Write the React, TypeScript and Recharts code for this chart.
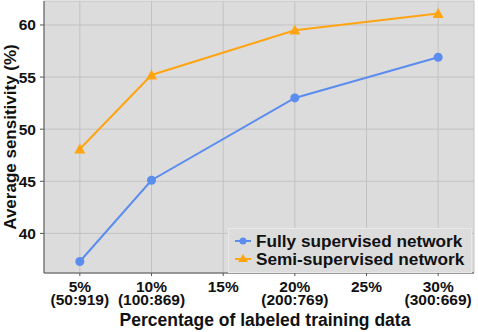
import {
  CartesianGrid,
  Legend,
  Line,
  LineChart,
  XAxis,
  YAxis,
} from "recharts";

const pct = [5, 10, 20, 30];
const fully = [37.3, 45.1, 53.0, 56.9];
const semi = [48.1, 55.2, 59.5, 61.1];

const xTicks = [5, 10, 15, 20, 25, 30];
const xTickTop = ["5%", "10%", "15%", "20%", "25%", "30%"];
const xTickBottom = ["(50:919)", "(100:869)", "", "(200:769)", "", "(300:669)"];
const yTicks = [40, 45, 50, 55, 60];

const SERIES = [
  { key: "fully", name: "Fully supervised network", color: "#5b8def", shape: "circle" },
  { key: "semi", name: "Semi-supervised network", color: "#ffa514", shape: "triangle" },
];

const FONT = '"Liberation Sans", Arial, sans-serif';

const rows = pct.map((p, i) => ({ pct: p, fully: fully[i], semi: semi[i] }));

function XTick({ x, y, payload }: any) {
  const i = xTicks.indexOf(payload.value);
  return (
    <g transform={`translate(${x},${y})`}>
      <text
        textAnchor="middle"
        fontFamily={FONT}
        fontWeight="bold"
        fontSize={15.5}
        fill="#111"
      >
        <tspan x={0} dy={13.5}>
          {xTickTop[i]}
        </tspan>
        {xTickBottom[i] && (
          <tspan x={0} dy={13}>
            {xTickBottom[i]}
          </tspan>
        )}
      </text>
    </g>
  );
}

function Triangle({ cx, cy, fill }: any) {
  if (cx == null || cy == null) return null;
  const s = 5.5;
  return (
    <polygon
      points={`${cx},${cy - s} ${cx - s},${cy + s * 0.8} ${cx + s},${cy + s * 0.8}`}
      fill={fill}
    />
  );
}

function LegendBox() {
  return (
    <div
      style={{
        background: "#dcdcdc",
        border: "1px solid #e8e8e8",
        padding: "3px 4px 4px 5px",
        fontFamily: FONT,
        fontWeight: "bold",
        fontSize: 17.2,
        color: "#111",
        lineHeight: "18px",
        whiteSpace: "nowrap",
      }}
    >
      {SERIES.map((s) => (
        <div key={s.key} style={{ display: "flex", alignItems: "center" }}>
          <svg width={18} height={14} style={{ marginRight: 4, flexShrink: 0 }}>
            <line x1={1} y1={7} x2={17} y2={7} stroke={s.color} strokeWidth={2} />
            {s.shape === "circle" ? (
              <circle cx={9} cy={7} r={3.5} fill={s.color} />
            ) : (
              <polygon points="9,2 4,10 14,10" fill={s.color} />
            )}
          </svg>
          <span>{s.name}</span>
        </div>
      ))}
    </div>
  );
}

export default function App() {
  return (
    <div style={{ position: "absolute", left: 0, top: 0, background: "#fff" }}>
      <LineChart
        width={478}
        height={332}
        data={rows}
        margin={{ top: 1, right: 4, left: 0, bottom: 0 }}
      >
        <CartesianGrid stroke="#c2c2c2" fill="#dcdcdc" />
        <XAxis
          dataKey="pct"
          type="number"
          domain={[2.5, 32.5]}
          ticks={xTicks}
          height={59}
          tick={<XTick />}
          tickLine={{ stroke: "#555" }}
          tickSize={3}
          axisLine={{ stroke: "#555" }}
          label={{
            value: "Percentage of labeled training data",
            position: "insideBottom",
            offset: 6,
            dx: 6,
            fill: "#111",
            fontFamily: FONT,
            fontWeight: "bold",
            fontSize: 17.5,
          }}
        />
        <YAxis
          type="number"
          domain={[36.2, 62.3]}
          ticks={yTicks}
          width={44}
          allowDataOverflow
          tick={{ fill: "#111", fontFamily: FONT, fontWeight: "bold", fontSize: 15.5 }}
          tickLine={{ stroke: "#555" }}
          tickSize={4}
          tickMargin={4}
          axisLine={{ stroke: "#555" }}
          label={{
            value: "Average sensitivity (%)",
            angle: -90,
            position: "center",
            dx: -12,
            fill: "#111",
            fontFamily: FONT,
            fontWeight: "bold",
            fontSize: 17,
          }}
        />
        <Legend
          layout="vertical"
          align="center"
          verticalAlign="middle"
          content={<LegendBox />}
          wrapperStyle={{ left: 228, top: 228, width: 244, height: "auto" }}
        />
        <Line
          dataKey="fully"
          name={SERIES[0].name}
          stroke={SERIES[0].color}
          strokeWidth={2}
          dot={{ r: 4.5, fill: SERIES[0].color, stroke: "none" }}
          isAnimationActive={false}
        />
        <Line
          dataKey="semi"
          name={SERIES[1].name}
          stroke={SERIES[1].color}
          strokeWidth={2}
          dot={(p: any) => <Triangle key={p.index} {...p} fill={SERIES[1].color} />}
          isAnimationActive={false}
        />
      </LineChart>
    </div>
  );
}
